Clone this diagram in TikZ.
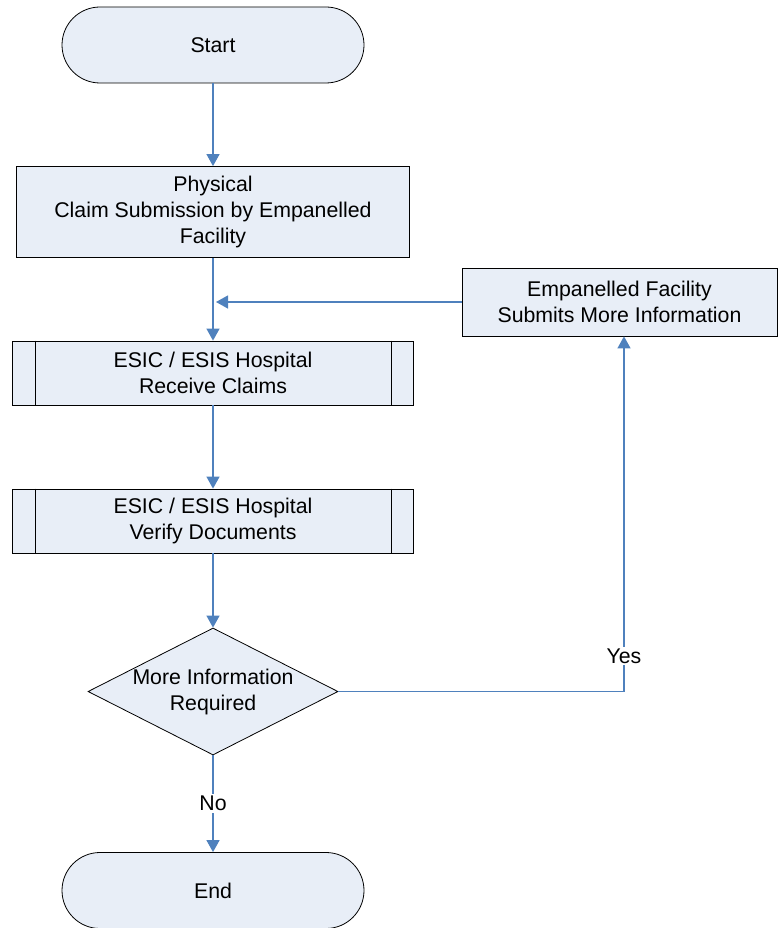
\documentclass[tikz,border=0pt]{standalone}
\usepackage{fontspec}
\setmainfont{Liberation Sans}
\usetikzlibrary{arrows.meta,shapes.geometric,shapes.misc}
\definecolor{boxfill}{HTML}{E8EEF7}
\definecolor{linkblue}{HTML}{4F81BD}
\begin{document}
\begin{tikzpicture}[x=1pt,y=-1pt,
  font=\fontsize{21.3}{26}\selectfont,
  base/.style={draw=black,line width=0.8pt,fill=boxfill,align=center,inner sep=0pt},
  term/.style={base,rounded rectangle,minimum width=302pt,minimum height=76pt},
  procbox/.style={base,rectangle,minimum width=393pt,minimum height=91pt},
  predef/.style={base,rectangle,minimum width=401pt,minimum height=64pt},
  sidebox/.style={base,rectangle,minimum width=315pt,minimum height=68pt},
  decbox/.style={base,diamond,minimum width=250pt,minimum height=127pt},
  arr/.style={draw=linkblue,line width=1.3pt,-{Triangle[width=13pt,length=12pt]}},
  lbl/.style={fill=white,inner sep=2pt,text=black}]
\useasboundingbox (0,0) rectangle (778,928);
\node[term] (start) at (213,45) {Start};
\node[procbox] (p1) at (213,212) {Physical\\Claim Submission by Empanelled\\Facility};
\node[predef] (recv) at (213,373) {ESIC / ESIS Hospital\\Receive Claims};
\draw[line width=0.8pt] ([xshift=23pt]recv.north west) -- ([xshift=23pt]recv.south west)
  ([xshift=-23pt]recv.north east) -- ([xshift=-23pt]recv.south east);
\node[predef] (ver) at (213,521) {ESIC / ESIS Hospital\\Verify Documents};
\draw[line width=0.8pt] ([xshift=23pt]ver.north west) -- ([xshift=23pt]ver.south west)
  ([xshift=-23pt]ver.north east) -- ([xshift=-23pt]ver.south east);
\node[sidebox] (emp) at (619.5,302) {Empanelled Facility\\Submits More Information};
\node[decbox] (dec) at (213,691.5) {};
\node[align=center,inner sep=0pt] (dectext) at (dec.center) {More Information\\Required};
\node[term] (end) at (213,890.5) {End};
\coordinate (join) at (p1.south |- emp.west);
\coordinate (yesup) at ([xshift=4.5pt]emp.south);
\draw[arr] (start.south) -- (p1.north);
\draw[arr] (p1.south) -- (recv.north);
\draw[arr] (emp.west) -- ([xshift=3pt]join);
\draw[arr] (recv.south) -- (ver.north);
\draw[arr] (ver.south) -- (dec.north);
\draw[arr] (dec.east) -| node[lbl,pos=0.55] {Yes} (yesup);
\draw[arr] (dec.south) -- node[lbl] {No} (end.north);
\end{tikzpicture}
\end{document}
